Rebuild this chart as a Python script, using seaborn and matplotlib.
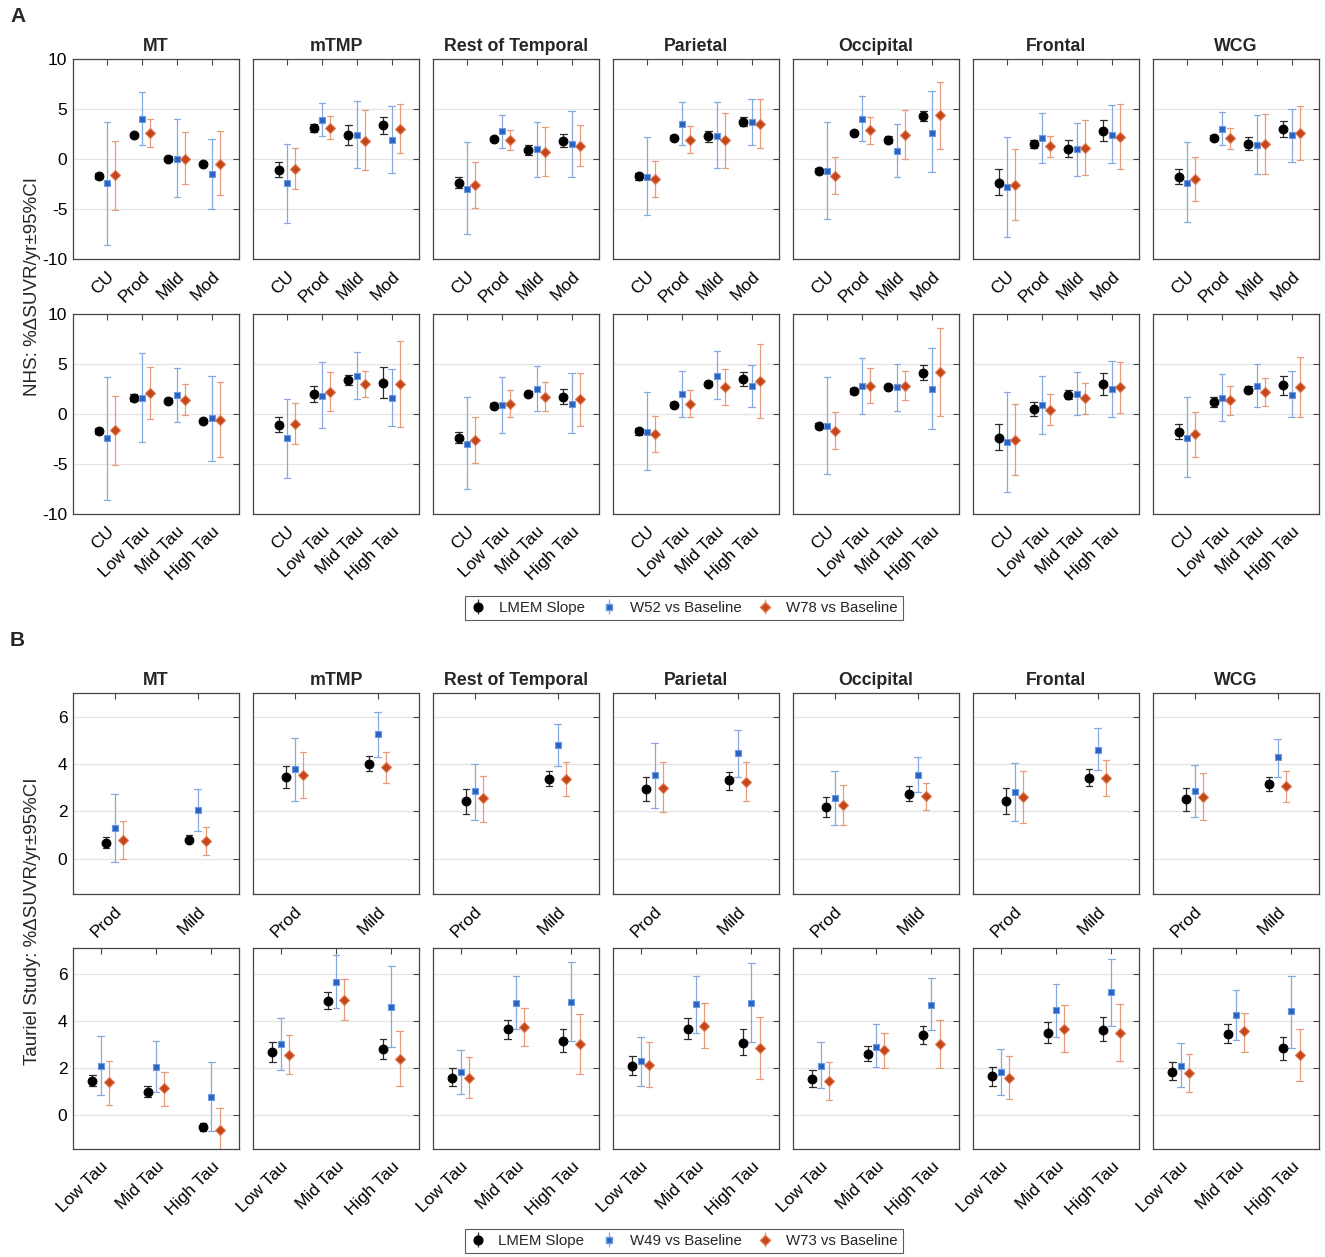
import numpy as np
import pandas as pd
import matplotlib
matplotlib.use("Agg")
import matplotlib.pyplot as plt
import seaborn as sns
from matplotlib.legend_handler import HandlerErrorbar

regions = ["MT", "mTMP", "Rest of Temporal", "Parietal", "Occipital", "Frontal", "WCG"]
sev_cats_a = ["CU", "Prod", "Mild", "Mod"]
tau_cats_a = ["CU", "Low Tau", "Mid Tau", "High Tau"]
sev_cats_b = ["Prod", "Mild"]
tau_cats_b = ["Low Tau", "Mid Tau", "High Tau"]
series_a = ["LMEM Slope", "W52 vs Baseline", "W78 vs Baseline"]
series_b = ["LMEM Slope", "W49 vs Baseline", "W73 vs Baseline"]

# ---- A, severity (one row per region, one value per group) ----
a_sev_lmem = [[-1.7, 2.4, 0.05, -0.5], [-1.05, 3.15, 2.4, 3.4], [-2.35, 2.0, 0.9, 1.85],
              [-1.7, 2.15, 2.3, 3.75], [-1.15, 2.65, 1.95, 4.3], [-2.35, 1.55, 1.05, 2.85],
              [-1.75, 2.15, 1.5, 3.05]]
a_sev_lmem_lo = [[-2.0, 2.2, -0.2, -0.7], [-1.8, 2.7, 1.4, 2.5], [-2.9, 1.8, 0.45, 1.2],
                 [-2.1, 1.9, 1.75, 3.3], [-1.4, 2.45, 1.6, 3.8], [-3.6, 1.15, 0.2, 1.8],
                 [-2.45, 1.9, 0.9, 2.25]]
a_sev_lmem_hi = [[-1.35, 2.6, 0.3, -0.3], [-0.3, 3.55, 3.4, 4.25], [-1.8, 2.2, 1.45, 2.5],
                 [-1.35, 2.4, 2.8, 4.2], [-0.85, 2.85, 2.35, 4.85], [-1.0, 1.95, 1.9, 3.9],
                 [-1.0, 2.4, 2.2, 3.8]]
a_sev_w52 = [[-2.4, 4.05, 0.0, -1.5], [-2.4, 3.95, 2.4, 1.95], [-2.95, 2.8, 1.05, 1.5],
             [-1.75, 3.5, 2.35, 3.75], [-1.2, 4.0, 0.85, 2.65], [-2.75, 2.1, 1.0, 2.45],
             [-2.35, 3.05, 1.4, 2.4]]
a_sev_w52_lo = [[-8.6, 1.4, -3.85, -5.05], [-6.4, 2.3, -0.9, -1.4], [-7.5, 1.15, -1.8, -1.8],
                [-5.6, 1.4, -0.9, 1.45], [-6.0, 1.8, -1.75, -1.3], [-7.8, -0.35, -1.7, -0.4],
                [-6.3, 1.4, -1.5, -0.3]]
a_sev_w52_hi = [[3.75, 6.7, 4.0, 2.05], [1.55, 5.65, 5.8, 5.35], [1.7, 4.45, 3.75, 4.8],
                [2.2, 5.7, 5.7, 6.05], [3.75, 6.35, 3.5, 6.8], [2.25, 4.6, 3.65, 5.45],
                [1.7, 4.75, 4.45, 5.05]]
a_sev_w78 = [[-1.6, 2.6, 0.0, -0.45], [-0.95, 3.1, 1.85, 3.05], [-2.6, 1.95, 0.7, 1.3],
             [-2.0, 1.95, 1.9, 3.55], [-1.65, 2.9, 2.4, 4.4], [-2.6, 1.35, 1.15, 2.25],
             [-2.0, 2.1, 1.5, 2.6]]
a_sev_w78_lo = [[-5.1, 1.25, -2.5, -3.6], [-2.95, 2.0, -1.1, 0.6], [-4.9, 0.9, -1.7, -0.7],
                [-3.8, 0.6, -0.9, 1.1], [-3.5, 1.5, 0.0, 1.05], [-6.1, 0.25, -1.6, -1.0],
                [-4.25, 1.05, -1.5, -0.05]]
a_sev_w78_hi = [[1.85, 4.05, 2.7, 2.85], [1.1, 4.3, 4.95, 5.5], [-0.3, 2.95, 3.2, 3.4],
                [-0.2, 3.35, 4.65, 6.0], [0.2, 4.2, 4.9, 7.75], [1.0, 2.35, 3.95, 5.5],
                [0.25, 3.1, 4.55, 5.3]]

# ---- A, tau ----
a_tau_lmem = [[-1.7, 1.65, 1.35, -0.7], [-1.05, 2.0, 3.45, 3.15], [-2.35, 0.85, 2.05, 1.75],
              [-1.7, 0.95, 3.05, 3.55], [-1.15, 2.3, 2.7, 4.1], [-2.35, 0.5, 1.9, 3.0],
              [-1.75, 1.2, 2.45, 2.9]]
a_tau_lmem_lo = [[-2.0, 1.3, 1.15, -0.9], [-1.8, 1.2, 2.9, 1.65], [-2.9, 0.6, 1.8, 1.05],
                 [-2.1, 0.7, 2.8, 2.85], [-1.4, 2.05, 2.5, 3.4], [-3.6, -0.15, 1.5, 1.9],
                 [-2.45, 0.7, 2.1, 1.9]]
a_tau_lmem_hi = [[-1.35, 2.0, 1.6, -0.45], [-0.3, 2.8, 3.95, 4.7], [-1.8, 1.1, 2.3, 2.5],
                 [-1.35, 1.2, 3.3, 4.25], [-0.85, 2.6, 2.95, 4.9], [-1.0, 1.2, 2.45, 4.1],
                 [-1.0, 1.7, 2.85, 3.85]]
a_tau_w52 = [[-2.4, 1.65, 1.9, -0.4], [-2.4, 1.85, 3.85, 1.65], [-2.95, 0.95, 2.55, 1.05],
             [-1.75, 2.05, 3.85, 2.8], [-1.2, 2.85, 2.7, 2.5], [-2.75, 0.9, 2.0, 2.5],
             [-2.35, 1.65, 2.85, 1.95]]
a_tau_w52_lo = [[-8.6, -2.8, -0.8, -4.7], [-6.4, -1.4, 1.55, -1.2], [-7.5, -1.85, 0.35, -1.9],
                [-5.6, -0.25, 1.55, 0.7], [-6.0, 0.05, 0.35, -1.5], [-7.8, -2.0, -0.1, -0.3],
                [-6.3, -0.7, 0.7, -0.3]]
a_tau_w52_hi = [[3.75, 6.1, 4.6, 3.8], [1.55, 5.25, 6.25, 4.5], [1.7, 3.75, 4.8, 4.1],
                [2.2, 4.35, 6.3, 4.9], [3.75, 5.65, 5.05, 6.6], [2.25, 3.85, 4.25, 5.3],
                [1.7, 4.0, 5.0, 4.3]]
a_tau_w78 = [[-1.6, 2.1, 1.45, -0.55], [-0.95, 2.25, 3.0, 3.0], [-2.6, 1.0, 1.75, 1.5],
             [-2.0, 1.0, 2.75, 3.3], [-1.65, 2.85, 2.85, 4.25], [-2.6, 0.45, 1.6, 2.7],
             [-2.0, 1.4, 2.25, 2.7]]
a_tau_w78_lo = [[-5.1, -0.5, -0.05, -4.3], [-2.95, 0.35, 1.75, -1.3], [-4.9, -0.3, 0.3, -1.15],
                [-3.8, -0.3, 0.95, -0.4], [-3.5, 1.15, 1.4, -0.15], [-6.1, -1.1, 0.0, 0.15],
                [-4.25, -0.1, 0.8, -0.3]]
a_tau_w78_hi = [[1.85, 4.7, 3.0, 3.25], [1.1, 4.2, 4.3, 7.35], [-0.3, 2.45, 3.25, 4.1],
                [-0.2, 2.4, 4.5, 7.05], [0.2, 4.6, 4.3, 8.6], [1.0, 2.0, 3.15, 5.25],
                [0.25, 2.85, 3.6, 5.75]]

# ---- B, severity ----
b_sev_lmem = [[0.65, 0.8], [3.45, 4.0], [2.45, 3.35], [2.95, 3.3], [2.2, 2.75], [2.45, 3.4], [2.5, 3.15]]
b_sev_lmem_lo = [[0.45, 0.7], [3.0, 3.7], [1.9, 3.05], [2.45, 2.9], [1.75, 2.45], [1.9, 3.05], [2.0, 2.85]]
b_sev_lmem_hi = [[0.9, 1.0], [3.9, 4.35], [2.95, 3.7], [3.45, 3.65], [2.6, 3.05], [3.0, 3.8], [3.0, 3.45]]
b_sev_w49 = [[1.3, 2.05], [3.8, 5.25], [2.85, 4.8], [3.55, 4.45], [2.55, 3.55], [2.8, 4.6], [2.85, 4.3]]
b_sev_w49_lo = [[-0.15, 1.15], [2.45, 4.3], [1.65, 3.9], [2.15, 3.45], [1.4, 2.8], [1.6, 3.75], [1.75, 3.45]]
b_sev_w49_hi = [[2.75, 2.95], [5.1, 6.2], [4.0, 5.7], [4.9, 5.45], [3.7, 4.3], [4.05, 5.5], [3.95, 5.05]]
b_sev_w73 = [[0.8, 0.75], [3.55, 3.85], [2.55, 3.35], [3.0, 3.25], [2.25, 2.65], [2.6, 3.4], [2.6, 3.05]]
b_sev_w73_lo = [[0.0, 0.15], [2.55, 3.2], [1.55, 2.65], [1.95, 2.45], [1.4, 2.05], [1.5, 2.65], [1.65, 2.4]]
b_sev_w73_hi = [[1.6, 1.35], [4.5, 4.5], [3.5, 4.1], [4.1, 4.1], [3.1, 3.2], [3.7, 4.15], [3.6, 3.7]]

# ---- B, tau ----
b_tau_lmem = [[1.45, 1.0, -0.5], [2.7, 4.85, 2.8], [1.6, 3.65, 3.15], [2.1, 3.65, 3.05],
              [1.55, 2.6, 3.4], [1.65, 3.5, 3.6], [1.85, 3.45, 2.85]]
b_tau_lmem_lo = [[1.25, 0.8, -0.65], [2.25, 4.5, 2.4], [1.25, 3.25, 2.7], [1.7, 3.25, 2.55],
                 [1.2, 2.3, 3.0], [1.25, 3.05, 3.15], [1.5, 3.05, 2.35]]
b_tau_lmem_hi = [[1.7, 1.25, -0.3], [3.1, 5.2, 3.25], [2.0, 4.05, 3.65], [2.5, 4.1, 3.65],
                 [1.9, 2.95, 3.8], [2.05, 3.95, 4.15], [2.25, 3.85, 3.3]]
b_tau_w49 = [[2.1, 2.05, 0.8], [3.0, 5.65, 4.6], [1.85, 4.75, 4.8], [2.3, 4.7, 4.75],
             [2.1, 2.9, 4.65], [1.85, 4.45, 5.2], [2.1, 4.25, 4.4]]
b_tau_w49_lo = [[0.85, 1.0, -0.65], [1.9, 4.55, 2.9], [0.9, 3.65, 3.15], [1.25, 3.5, 3.1],
                [1.15, 2.05, 3.6], [0.85, 3.3, 3.8], [1.2, 3.2, 2.85]]
b_tau_w49_hi = [[3.35, 3.15, 2.25], [4.1, 6.8, 6.3], [2.75, 5.9, 6.5], [3.3, 5.9, 6.45],
                [3.1, 3.85, 5.8], [2.8, 5.55, 6.6], [3.05, 5.3, 5.9]]
b_tau_w73 = [[1.4, 1.15, -0.6], [2.55, 4.9, 2.4], [1.6, 3.75, 3.0], [2.15, 3.8, 2.85],
             [1.45, 2.75, 3.0], [1.6, 3.65, 3.5], [1.8, 3.55, 2.55]]
b_tau_w73_lo = [[0.45, 0.4, -1.6], [1.75, 4.05, 1.25], [0.75, 2.95, 1.75], [1.2, 2.85, 1.55],
                [0.65, 2.0, 2.0], [0.7, 2.7, 2.3], [1.0, 2.7, 1.45]]
b_tau_w73_hi = [[2.3, 1.85, 0.3], [3.4, 5.75, 3.55], [2.45, 4.55, 4.3], [3.1, 4.75, 4.15],
                [2.25, 3.5, 4.05], [2.5, 4.65, 4.7], [2.6, 4.35, 3.65]]

marker_colors = ["black", "#2A62C4", "#C4461B"]
edge_colors = ["black", "#6E9BE0", "#E07A4F"]
err_colors = ["#2b2b2b", "#86A9E2", "#E89A7C"]
markers = ["o", "s", "D"]
marker_sizes = [6.3, 5.0, 5.2]


def long_table(cats, series, mids, los, his):
    # each estimate stored as lo / mid / hi so that median + full range reproduce it
    rows = []
    for s, mid, lo, hi in zip(series, mids, los, his):
        for r, region in enumerate(regions):
            for j, cat in enumerate(cats):
                for v in (lo[r][j], mid[r][j], hi[r][j]):
                    rows.append((region, cat, s, v))
    return pd.DataFrame(rows, columns=["region", "group", "series", "value"])


panel_rows = [
    dict(top=59, bottom=259, cats=sev_cats_a, series=series_a, ylim=(-10, 10),
         yticks=[-10, -5, 0, 5, 10], xlim=(-0.97, 3.78),
         data=long_table(sev_cats_a, series_a, [a_sev_lmem, a_sev_w52, a_sev_w78],
                         [a_sev_lmem_lo, a_sev_w52_lo, a_sev_w78_lo],
                         [a_sev_lmem_hi, a_sev_w52_hi, a_sev_w78_hi])),
    dict(top=314, bottom=514, cats=tau_cats_a, series=series_a, ylim=(-10, 10),
         yticks=[-10, -5, 0, 5, 10], xlim=(-0.97, 3.78),
         data=long_table(tau_cats_a, series_a, [a_tau_lmem, a_tau_w52, a_tau_w78],
                         [a_tau_lmem_lo, a_tau_w52_lo, a_tau_w78_lo],
                         [a_tau_lmem_hi, a_tau_w52_hi, a_tau_w78_hi])),
    dict(top=693, bottom=894, cats=sev_cats_b, series=series_b, ylim=(-1.5, 7.0),
         yticks=[0, 2, 4, 6], xlim=(-0.5, 1.5),
         data=long_table(sev_cats_b, series_b, [b_sev_lmem, b_sev_w49, b_sev_w73],
                         [b_sev_lmem_lo, b_sev_w49_lo, b_sev_w73_lo],
                         [b_sev_lmem_hi, b_sev_w49_hi, b_sev_w73_hi])),
    dict(top=948, bottom=1149, cats=tau_cats_b, series=series_b, ylim=(-1.42, 7.08),
         yticks=[0, 2, 4, 6], xlim=(-0.5, 2.5),
         data=long_table(tau_cats_b, series_b, [b_tau_lmem, b_tau_w49, b_tau_w73],
                         [b_tau_lmem_lo, b_tau_w49_lo, b_tau_w73_lo],
                         [b_tau_lmem_hi, b_tau_w49_hi, b_tau_w73_hi])),
]

sns.set_theme(style="white")
plt.rcParams["font.family"] = ["Liberation Sans", "DejaVu Sans"]
plt.rcParams["axes.edgecolor"] = "#454545"
plt.rcParams["axes.linewidth"] = 0.9
plt.rcParams["axes.unicode_minus"] = False

W, H = 1325, 1257
fig = plt.figure(figsize=(W / 100, H / 100), dpi=100)
lefts = [73 + 180 * i for i in range(7)]
panel_w = 166

first_axes = []
for spec in panel_rows:
    palette = dict(zip(spec["series"], marker_colors))
    for i, region in enumerate(regions):
        ax = fig.add_axes([lefts[i] / W, 1 - spec["bottom"] / H, panel_w / W,
                           (spec["bottom"] - spec["top"]) / H])
        if i == 0:
            first_axes.append(ax)
        sub = spec["data"][spec["data"]["region"] == region]
        px_per_unit = panel_w / (spec["xlim"][1] - spec["xlim"][0])
        dodge = 2 * 8.3 / px_per_unit
        cap = 6.5 / px_per_unit
        for k, s in enumerate(spec["series"]):
            sns.pointplot(data=sub[sub["series"] == s], x="group", y="value",
                          hue="series", hue_order=spec["series"], order=spec["cats"],
                          palette=palette, markers=markers, estimator="median",
                          errorbar=("pi", 100), dodge=dodge, capsize=cap,
                          linestyle="none", markersize=marker_sizes[k],
                          markeredgewidth=0.8, markeredgecolor=edge_colors[k],
                          zorder=3, legend=False, ax=ax,
                          err_kws={"color": err_colors[k], "linewidth": 0.9,
                                   "linestyle": "-", "zorder": 2})
        ax.set_xlim(*spec["xlim"])
        ax.set_ylim(*spec["ylim"])
        ax.set_yticks(spec["yticks"])
        ax.set_xlabel("")
        ax.set_ylabel("")
        ax.yaxis.grid(True, color="#e4e4e4", linewidth=0.9)
        ax.xaxis.grid(False)
        ax.set_axisbelow(True)
        ax.tick_params(direction="in", top=True, right=True, length=4, width=0.8,
                       color="#454545", labelsize=12.5, labelcolor="black")
        ax.tick_params(axis="x", pad=7)
        ax.tick_params(axis="y", pad=4, labelleft=(i == 0))
        for lbl in ax.get_xticklabels():
            lbl.set_rotation(45)
            lbl.set_ha("right")
            lbl.set_rotation_mode("anchor")
        if spec["top"] in (59, 693):
            ax.set_title(region, fontsize=12.8, fontweight="bold", pad=6)
        for sp in ax.spines.values():
            sp.set_visible(True)


def legend_handles(ax):
    handles = []
    for k in range(3):
        h = ax.errorbar([], [], yerr=[], fmt=markers[k], color=marker_colors[k],
                        mec=edge_colors[k], ms=marker_sizes[k], ecolor=err_colors[k],
                        elinewidth=0.9, capsize=3)
        handles.append(h)
    return handles


for ax0, series, yc in [(first_axes[0], series_a, 608), (first_axes[2], series_b, 1241)]:
    hs = legend_handles(ax0)
    leg = fig.legend(hs, series, ncol=3, loc="center",
                     bbox_to_anchor=(684 / W, 1 - yc / H), fontsize=10.8,
                     frameon=True, fancybox=False, edgecolor="#333333",
                     handlelength=1.0, columnspacing=1.1, handletextpad=0.9,
                     borderpad=0.35,
                     handler_map={type(hs[0]): HandlerErrorbar(yerr_size=0.5)})
    leg.get_frame().set_linewidth(0.8)

fig.text(10 / W, 1 - 17 / H, "A", fontsize=15, fontweight="bold", va="center")
fig.text(10 / W, 1 - 640 / H, "B", fontsize=15, fontweight="bold", va="center")
fig.text(33 / W, 1 - 286 / H, "NHS: %ΔSUVR/yr±95%CI", rotation=90,
         ha="center", va="center", fontsize=13.5)
fig.text(33 / W, 1 - 921 / H, "Tauriel Study: %ΔSUVR/yr±95%CI", rotation=90,
         ha="center", va="center", fontsize=13.5)

fig.savefig("out.png", dpi=100)
